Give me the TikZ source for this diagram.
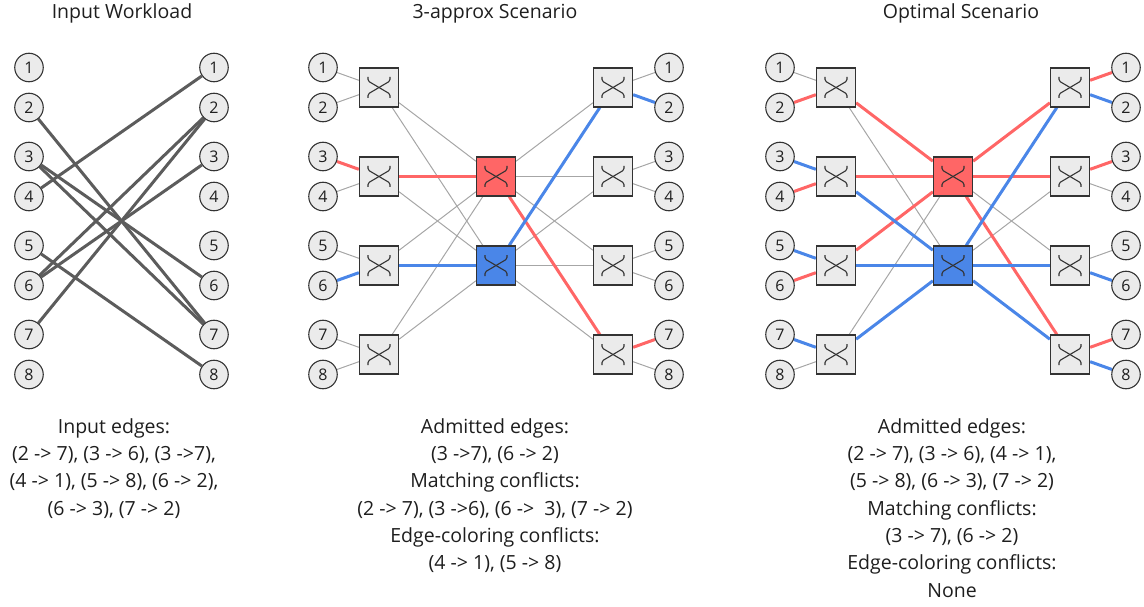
\documentclass[tikz,border=0pt]{standalone}
\usepackage{fontspec}
\setmainfont{Open Sans}
\usetikzlibrary{backgrounds}
\definecolor{nodefill}{HTML}{EBEBEB}
\definecolor{nodeline}{HTML}{333333}
\definecolor{thinline}{HTML}{A6A6A6}
\definecolor{wkline}{HTML}{5C5C5C}
\definecolor{redc}{HTML}{FF6666}
\definecolor{bluec}{HTML}{4A86E8}
\definecolor{txt}{HTML}{1E1E1E}
\newcommand{\captionlines}[1]{\begin{tabular}[t]{@{}c@{}}#1\end{tabular}}
\begin{document}
\begin{tikzpicture}[x=1pt,y=-1pt,
  port/.style={circle,draw=nodeline,fill=nodefill,line width=1.1pt,
    minimum size=28.5pt,inner sep=0pt,text=txt,
    font=\fontsize{16}{16}\selectfont},
  switch/.style={rectangle,draw=nodeline,fill=nodefill,line width=1.3pt,
    minimum size=39pt,inner sep=0pt,
    path picture={\begin{scope}[shift={(path picture bounding box.center)},
        line width=1.1pt,rounded corners=1.5pt]
      \draw (-11,-10.5) -- (-11,-6.5) -- (11,6.5) -- (11,10.5);
      \draw (11,-10.5) -- (11,-6.5) -- (-11,6.5) -- (-11,10.5);
    \end{scope}}},
  redswitch/.style={switch,fill=redc},
  blueswitch/.style={switch,fill=bluec},
  lk/.style={draw=thinline,line width=1pt},
  rk/.style={draw=redc,line width=3pt},
  bk/.style={draw=bluec,line width=3pt},
  wk/.style={draw=wkline,line width=3pt},
  heading/.style={anchor=base,inner sep=0pt,text=txt,font=\fontsize{19.5}{27.3}\selectfont},
  caption/.style={anchor=base,inner sep=0pt,text=txt,font=\fontsize{19.5}{27.3}\selectfont}]
\useasboundingbox (0,0) rectangle (1144,607);

% headings
\node[heading] (h1) at (122,18.3) {Input Workload};
\node[heading] (h2) at (495,18.3) {3-approx Scenario};
\node[heading] (h3) at (961,18.3) {Optimal Scenario};

% input workload ports
\foreach \i/\y in {1/67.5,2/107.5,3/156.5,4/196.5,5/245.5,6/285.5,7/334.5,8/374.5}{
  \node[port] (wL\i) at (29,\y) {\i};
  \node[port] (wR\i) at (214,\y) {\i};
}

% two switch networks: ports, edge switches, middle switches
\foreach \p/\cx in {m/496,o/953}{
  \foreach \i/\y in {1/67.5,2/107.5,3/156.5,4/196.5,5/245.5,6/285.5,7/334.5,8/374.5}{
    \node[port] (\p L\i) at (\cx-173,\y) {\i};
    \node[port] (\p P\i) at (\cx+173,\y) {\i};
  }
  \foreach \j/\y in {1/87.5,2/176.5,3/265.5,4/354.5}{
    \node[switch] (\p A\j) at (\cx-117,\y) {};
    \node[switch] (\p C\j) at (\cx+117,\y) {};
  }
  \node[redswitch] (\p R) at (\cx,176.5) {};
  \node[blueswitch] (\p B) at (\cx,265.5) {};
}

\begin{pgfonlayer}{background}
% input workload edges
\foreach \a/\b in {2/7,3/6,3/7,4/1,5/8,6/2,6/3,7/2}
  \draw[wk] (wL\a) -- (wR\b);

% 3-approx scenario
\foreach \a/\b/\s in {mL1/mA1/lk,mL2/mA1/lk,mL4/mA2/lk,mL5/mA3/lk,mL7/mA4/lk,mL8/mA4/lk,
    mA1/mR/lk,mA3/mR/lk,mA4/mR/lk,mA1/mB/lk,mA2/mB/lk,mA4/mB/lk,
    mR/mC1/lk,mR/mC2/lk,mR/mC3/lk,mB/mC2/lk,mB/mC3/lk,mB/mC4/lk,
    mC1/mP1/lk,mC2/mP3/lk,mC2/mP4/lk,mC3/mP5/lk,mC3/mP6/lk,mC4/mP8/lk,
    mL3/mA2/rk,mL6/mA3/bk,mA2/mR/rk,mA3/mB/bk,mR/mC4/rk,mB/mC1/bk,
    mC1/mP2/bk,mC4/mP7/rk}
  \draw[\s] (\a) -- (\b);

% optimal scenario
\foreach \a/\b/\s in {oL1/oA1/lk,oL8/oA4/lk,oA1/oB/lk,oA4/oR/lk,oR/oC3/lk,oB/oC2/lk,
    oC2/oP4/lk,oC3/oP5/lk,
    oL2/oA1/rk,oL3/oA2/bk,oL4/oA2/rk,oL5/oA3/bk,oL6/oA3/rk,oL7/oA4/bk,
    oA1/oR/rk,oA2/oR/rk,oA3/oR/rk,oA2/oB/bk,oA3/oB/bk,oA4/oB/bk,
    oR/oC1/rk,oR/oC2/rk,oR/oC4/rk,oB/oC1/bk,oB/oC3/bk,oB/oC4/bk,
    oC1/oP1/rk,oC1/oP2/bk,oC2/oP3/rk,oC3/oP6/bk,oC4/oP7/rk,oC4/oP8/bk}
  \draw[\s] (\a) -- (\b);
\end{pgfonlayer}

% captions
\node[caption] (c1) at (114,433.3) {\captionlines{Input edges:\\(2 -> 7), (3 -> 6), (3 ->7),\\(4 -> 1), (5 -> 8), (6 -> 2),\\(6 -> 3), (7 -> 2)}};
\node[caption] (c2) at (495,433.3) {\captionlines{Admitted edges:\\(3 ->7), (6 -> 2)\\Matching conflicts:\\(2 -> 7), (3 ->6), (6 -> \ 3), (7 -> 2)\\Edge-coloring conflicts:\\(4 -> 1), (5 -> 8)}};
\node[caption] (c3) at (952,433.3) {\captionlines{Admitted edges:\\(2 -> 7), (3 -> 6), (4 -> 1),\\(5 -> 8), (6 -> 3), (7 -> 2)\\Matching conflicts:\\(3 -> 7), (6 -> 2)\\Edge-coloring conflicts:\\None}};
\end{tikzpicture}
\end{document}
